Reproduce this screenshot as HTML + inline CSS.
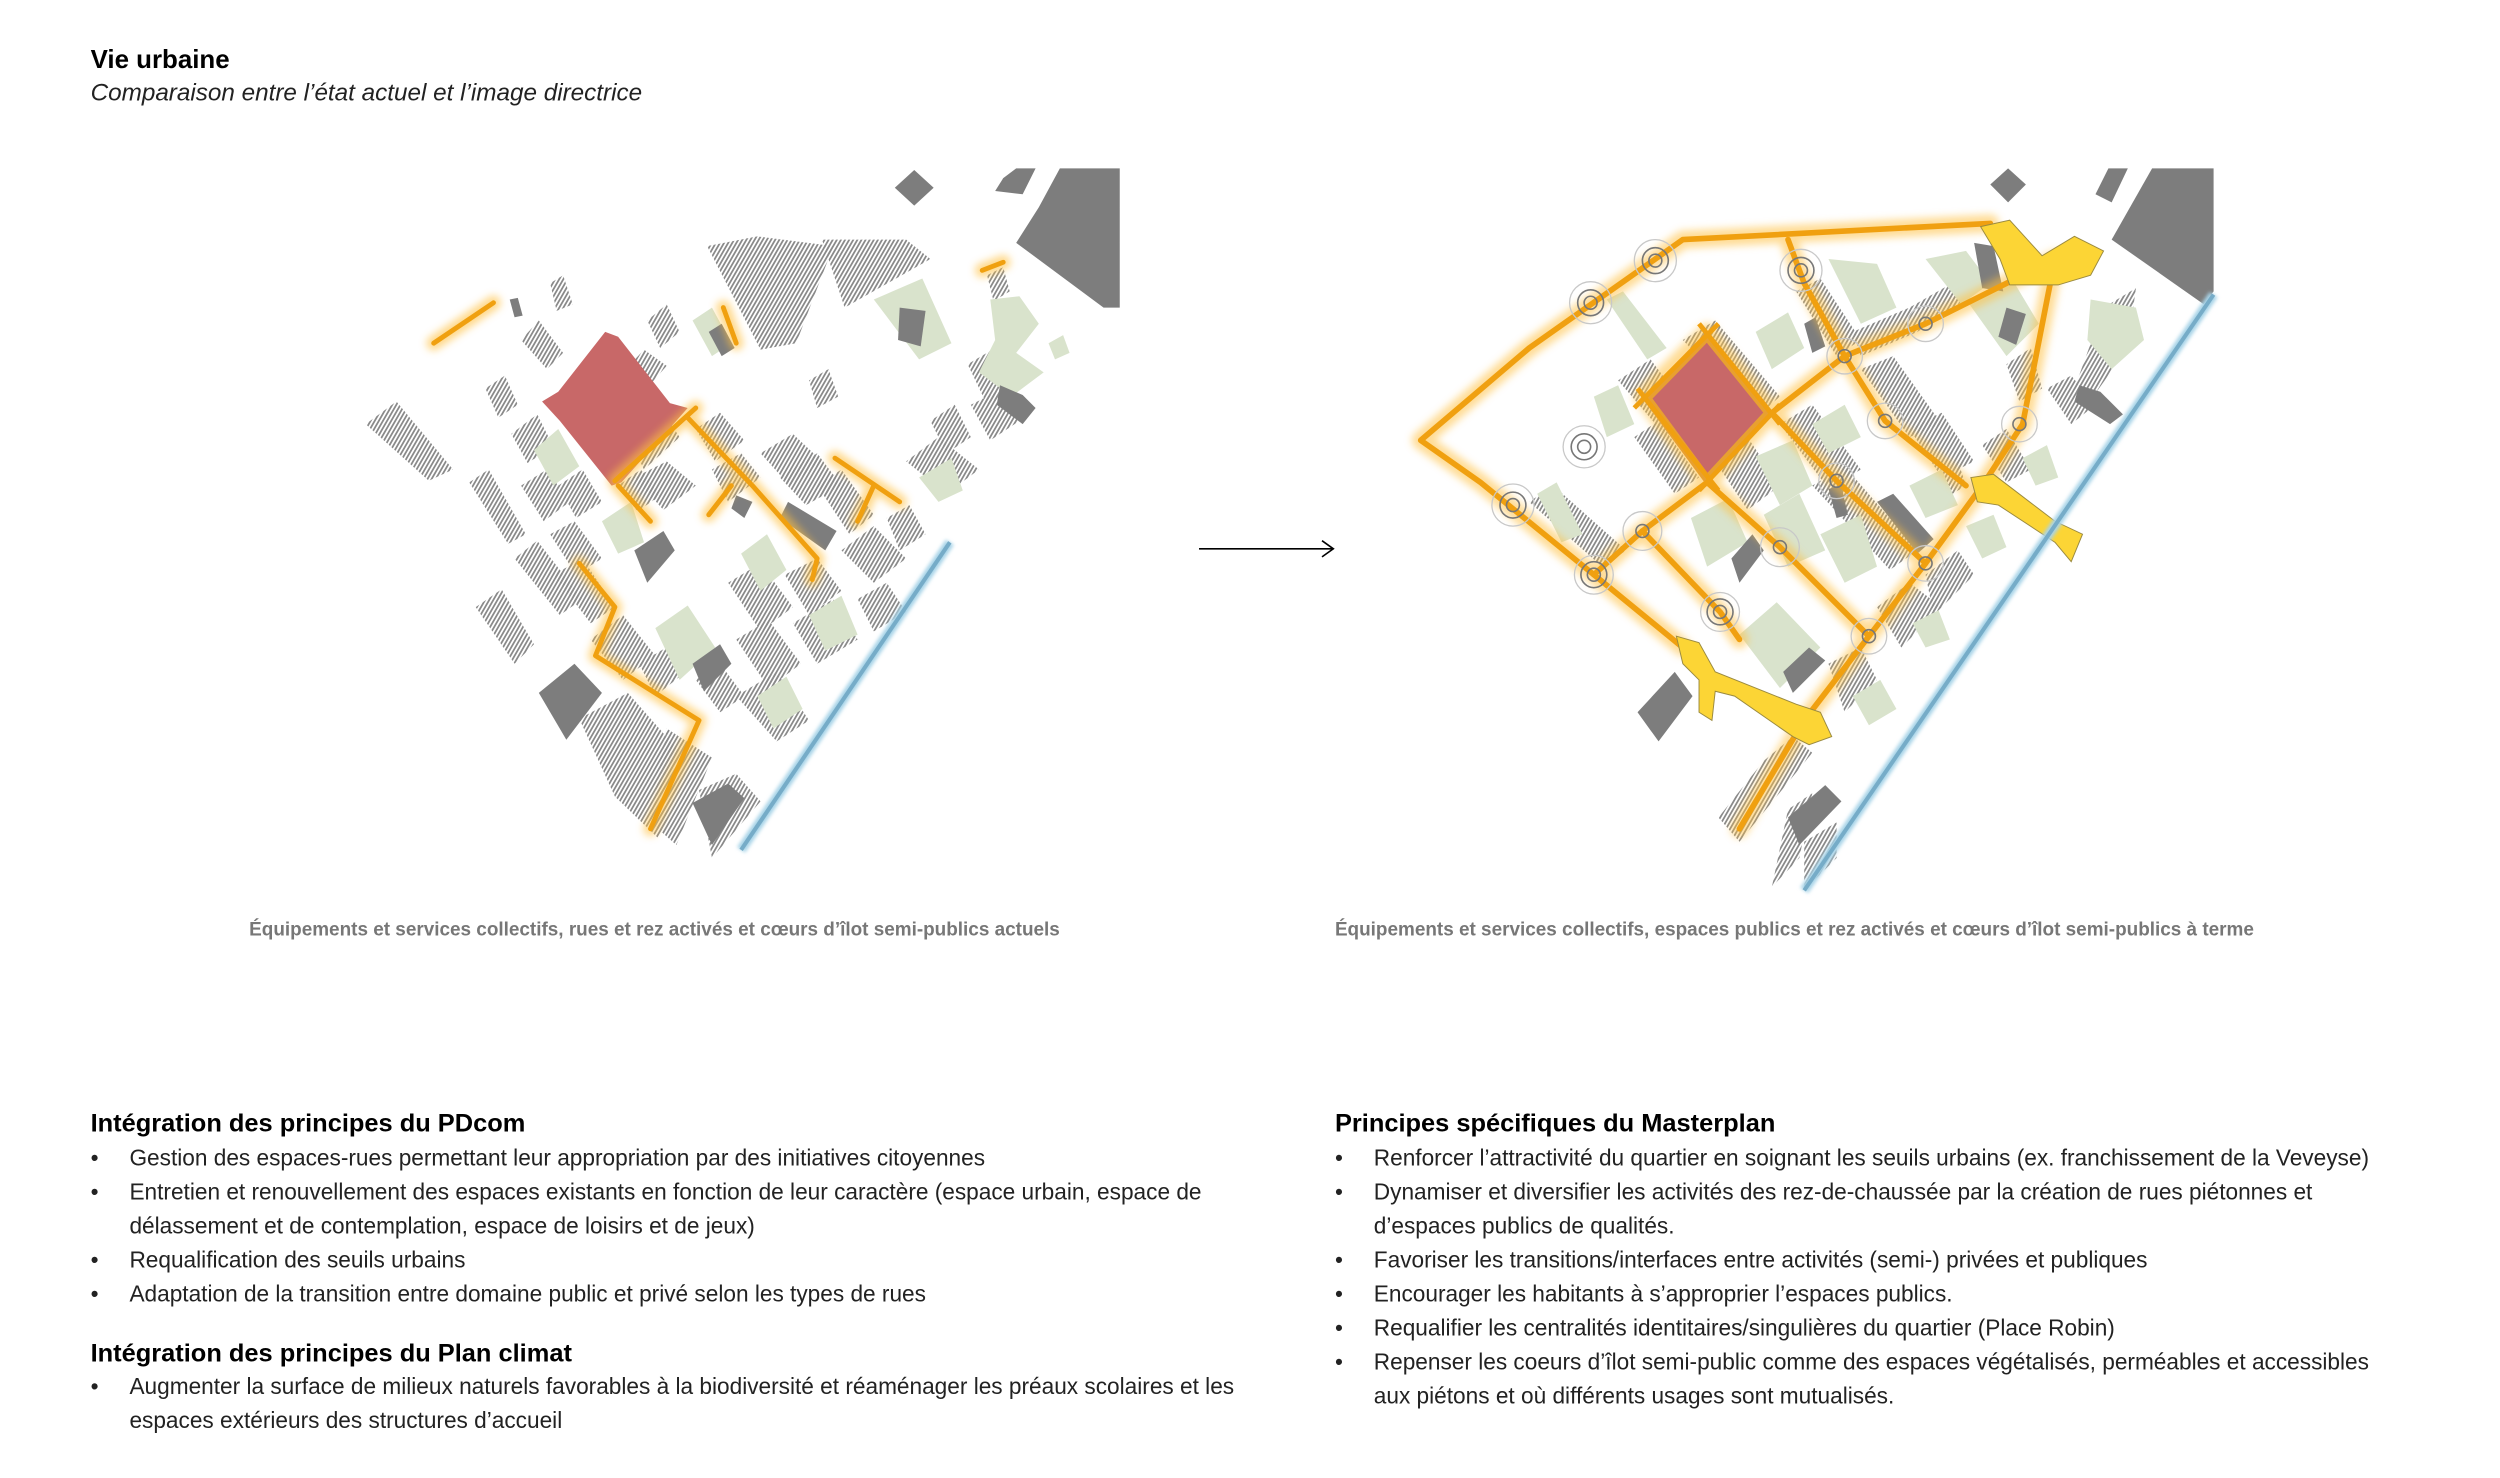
<!DOCTYPE html>
<html><head><meta charset="utf-8"><style>
html,body{margin:0;padding:0;background:#fff;}
svg{display:block}
text{font-family:"Liberation Sans",Arial,sans-serif;}
</style></head><body>
<svg width="2500" height="1478" viewBox="0 0 1545 913" preserveAspectRatio="none" xmlns="http://www.w3.org/2000/svg">
<defs>
<pattern id="h" width="2.2" height="6" patternUnits="userSpaceOnUse" patternTransform="rotate(30)">
<rect width="1.1" height="6" fill="#8a8a8a"/>
</pattern>
<filter id="bl" x="-20%" y="-20%" width="140%" height="140%"><feGaussianBlur stdDeviation="2.5"/></filter>
<filter id="bl2" x="-20%" y="-20%" width="140%" height="140%"><feGaussianBlur stdDeviation="1.2"/></filter>
</defs>
<rect width="1545" height="913" fill="#fff"/>
<text x="56" y="42" font-size="16" font-weight="bold" fill="#000">Vie urbaine</text>
<text x="56" y="62" font-size="15" font-style="italic" fill="#222">Comparaison entre l’état actuel et l’image directrice</text>

<!-- LEFT MAP -->
<g>
<g fill="url(#h)">
<polygon points="437,152 468,146 515,152 492,212 470,216"/>
<polygon points="508,148 560,148 575,160 522,190"/>
<polygon points="226,262 245,248 280,290 265,297"/>
<polygon points="290,298 302,290 325,330 314,336"/>
<polygon points="294,375 310,364 330,398 318,410"/>
<polygon points="358,444 388,428 425,470 407,518 380,492"/>
<polygon points="412,450 440,468 418,522 402,508"/>
<polygon points="432,488 455,478 470,495 440,530"/>
<polygon points="340,175 348,170 354,188 344,192"/>
<polygon points="322,210 333,198 348,218 338,228"/>
<polygon points="400,198 412,188 420,205 408,215"/>
<polygon points="385,230 398,216 412,226 396,244"/>
<polygon points="300,240 312,232 320,250 308,258"/>
<polygon points="316,268 332,256 342,276 326,286"/>
<polygon points="322,300 338,290 352,310 336,322"/>
<polygon points="345,300 360,290 372,310 356,320"/>
<polygon points="318,345 332,334 360,370 346,380"/>
<polygon points="342,355 360,345 380,375 365,385"/>
<polygon points="365,395 385,380 405,405 385,420"/>
<polygon points="388,270 410,255 420,270 398,290"/>
<polygon points="392,295 412,285 430,300 410,315"/>
<polygon points="430,265 445,255 460,272 442,285"/>
<polygon points="440,290 458,280 470,295 450,310"/>
<polygon points="470,280 490,268 508,285 488,300"/>
<polygon points="482,295 505,280 520,300 498,312"/>
<polygon points="500,235 512,228 518,245 505,252"/>
<polygon points="505,300 520,290 540,318 525,330"/>
<polygon points="520,340 540,325 560,345 540,360"/>
<polygon points="548,320 562,312 572,330 556,340"/>
<polygon points="560,285 580,270 605,290 585,305"/>
<polygon points="575,260 590,250 600,270 585,280"/>
<polygon points="598,225 615,215 625,240 610,250"/>
<polygon points="600,250 620,240 630,260 612,272"/>
<polygon points="610,170 620,165 624,180 614,186"/>
<polygon points="450,360 470,348 490,375 470,390"/>
<polygon points="485,355 505,345 520,365 500,380"/>
<polygon points="490,385 515,370 530,395 505,410"/>
<polygon points="455,395 475,383 495,410 475,425"/>
<polygon points="455,430 480,415 500,445 480,458"/>
<polygon points="395,410 420,395 430,410 405,430"/>
<polygon points="430,420 445,410 460,430 445,440"/>
<polygon points="382,300 396,290 408,306 394,316"/>
<polygon points="340,330 355,322 372,345 356,355"/>
<polygon points="530,370 548,360 560,378 540,390"/>
</g>
<g fill="#d9e3cc">
<polygon points="330,278 345,265 358,288 342,300"/>
<polygon points="372,322 390,310 398,335 382,342"/>
<polygon points="458,342 474,330 486,352 470,365"/>
<polygon points="405,388 425,374 442,400 420,420"/>
<polygon points="500,380 520,368 530,392 510,402"/>
<polygon points="468,430 486,418 496,438 478,450"/>
<polygon points="540,185 570,172 588,212 568,222"/>
<polygon points="612,185 630,183 642,200 628,218 645,230 625,245 605,230 615,210"/>
<polygon points="648,212 657,207 661,218 652,222"/>
<polygon points="568,295 588,283 595,303 580,310"/>
<polygon points="428,198 440,190 452,212 440,220"/>
</g>
<g fill="#7d7d7d">
<polygon points="655,104 692,104 692,190 682,190 628,150 642,128"/>
<polygon points="628,104 640,104 632,120 615,118 620,110"/>
<polygon points="565,105 577,116 565,127 553,116"/>
<polygon points="556,190 572,192 569,214 555,210"/>
<polygon points="438,205 446,200 454,215 446,220"/>
<polygon points="315,185 320,184 323,195 318,196"/>
<polygon points="618,238 632,244 640,252 632,262 616,250"/>
<polygon points="487,310 517,328 510,340 482,320"/>
<polygon points="392,340 410,328 417,340 400,360"/>
<polygon points="428,410 445,398 452,410 435,427"/>
<polygon points="333,428 355,410 372,428 350,457"/>
<polygon points="428,496 450,484 460,493 440,522"/>
<polygon points="455,306 465,310 460,320 452,314"/>
</g>
<polygon points="374,205 382,208 414,249 425,252 384,298 378,300 346,260 335,248 345,242" fill="#c86868"/>
<g fill="none" stroke-linecap="round" stroke-linejoin="round">
<g stroke="#ffc040" stroke-width="9" opacity="0.6" filter="url(#bl)">
<polyline points="268,212 305,187"/>
<polyline points="380,297 430,252"/>
<polyline points="425,258 465,300 505,345 502,358"/>
<polyline points="452,300 438,318"/>
<polyline points="382,300 402,322"/>
<polyline points="516,283 556,310"/>
<polyline points="540,300 530,322"/>
<polyline points="358,348 380,375 368,405 432,445 402,512"/>
<polyline points="447,190 455,212"/>
<polyline points="607,167 620,162"/>
</g>
<g stroke="#f0a010" stroke-width="3">
<polyline points="268,212 305,187"/>
<polyline points="380,297 430,252"/>
<polyline points="425,258 465,300 505,345 502,358"/>
<polyline points="452,300 438,318"/>
<polyline points="382,300 402,322"/>
<polyline points="516,283 556,310"/>
<polyline points="540,300 530,322"/>
<polyline points="358,348 380,375 368,405 432,445 402,512"/>
<polyline points="447,190 455,212"/>
<polyline points="607,167 620,162"/>
</g>
</g>
<line x1="458" y1="525" x2="587" y2="335" stroke="#a8d4e8" stroke-width="6" filter="url(#bl2)"/>
<line x1="458" y1="525" x2="587" y2="335" stroke="#76acc8" stroke-width="2.5"/>
</g>

<!-- ARROW -->
<line x1="741" y1="339" x2="824" y2="339" stroke="#000" stroke-width="1"/>
<polyline points="817,334 824,339 817,344" fill="none" stroke="#000" stroke-width="1"/>

<!-- RIGHT MAP -->
<g>
<g fill="url(#h)">
<polygon points="1000,235 1020,222 1045,255 1030,270"/>
<polygon points="1040,210 1060,198 1100,245 1085,258"/>
<polygon points="1010,270 1025,260 1050,295 1035,305"/>
<polygon points="1060,285 1080,270 1100,300 1080,315"/>
<polygon points="1100,262 1120,250 1150,290 1130,302"/>
<polygon points="1120,300 1140,288 1185,340 1168,352"/>
<polygon points="1110,180 1125,172 1150,210 1135,220"/>
<polygon points="1145,205 1180,190 1215,170 1222,180 1185,205 1150,220"/>
<polygon points="1150,228 1170,220 1200,262 1180,270"/>
<polygon points="1180,265 1200,255 1220,285 1200,295"/>
<polygon points="1240,225 1255,215 1262,240 1248,248"/>
<polygon points="1225,275 1240,265 1255,290 1240,298"/>
<polygon points="1265,240 1280,232 1295,250 1280,262"/>
<polygon points="1300,190 1320,178 1315,215 1290,250 1282,240"/>
<polygon points="1190,355 1210,340 1220,355 1195,380"/>
<polygon points="1160,375 1180,360 1200,375 1175,400"/>
<polygon points="1130,410 1150,400 1160,420 1140,440"/>
<polygon points="1090,470 1108,455 1120,465 1075,520 1062,505"/>
<polygon points="1105,500 1120,490 1112,530 1095,548"/>
<polygon points="1115,520 1135,508 1135,530 1115,550"/>
<polygon points="945,310 960,300 1005,340 990,350"/>
<polygon points="1100,320 1112,312 1120,330 1108,336"/>
<polygon points="1185,300 1210,285 1215,300 1195,312"/>
</g>
<g fill="#d9e3cc">
<polygon points="993,185 1003,180 1030,215 1018,222"/>
<polygon points="985,245 1000,238 1010,262 993,270"/>
<polygon points="950,305 962,298 978,330 965,335"/>
<polygon points="1085,205 1105,193 1115,215 1095,228"/>
<polygon points="1130,160 1160,163 1172,190 1150,200"/>
<polygon points="1190,160 1215,155 1230,175 1212,188"/>
<polygon points="1215,185 1245,175 1260,200 1240,220"/>
<polygon points="1292,185 1320,190 1325,210 1305,228 1290,210"/>
<polygon points="1120,262 1140,250 1150,270 1130,280"/>
<polygon points="1085,282 1108,272 1120,300 1100,312"/>
<polygon points="1045,320 1068,308 1080,335 1055,350"/>
<polygon points="1090,318 1112,305 1128,340 1105,350"/>
<polygon points="1125,330 1150,318 1160,350 1140,360"/>
<polygon points="1180,300 1200,290 1210,312 1190,320"/>
<polygon points="1215,325 1232,318 1240,338 1225,345"/>
<polygon points="1075,392 1098,372 1125,400 1100,425"/>
<polygon points="1182,385 1198,377 1205,395 1190,400"/>
<polygon points="1145,430 1162,420 1172,438 1155,448"/>
<polygon points="1250,283 1265,275 1272,295 1258,300"/>
</g>
<g fill="#7d7d7d">
<polygon points="1330,104 1368,104 1368,180 1362,188 1305,148"/>
<polygon points="1303,104 1315,104 1305,125 1295,120"/>
<polygon points="1241,104 1252,114 1241,125 1230,114"/>
<polygon points="1220,150 1232,152 1238,180 1225,178"/>
<polygon points="1240,190 1252,194 1246,213 1235,208"/>
<polygon points="1285,238 1298,242 1312,256 1304,262 1282,248"/>
<polygon points="1115,200 1122,196 1128,214 1120,218"/>
<polygon points="1130,302 1138,300 1142,318 1135,320"/>
<polygon points="1160,310 1170,305 1195,333 1185,342"/>
<polygon points="1070,345 1083,330 1090,340 1075,360"/>
<polygon points="1102,415 1118,400 1128,408 1108,428"/>
<polygon points="1012,440 1035,415 1046,430 1025,458"/>
<polygon points="1105,505 1128,485 1138,495 1112,522"/>
</g>
<g fill="none" stroke-linecap="round" stroke-linejoin="round">
<g stroke="#ffc040" stroke-width="11" opacity="0.55" filter="url(#bl)">
<polyline points="1230,138 1040,148 945,215 878,272 915,298 985,355 1040,400"/>
<polyline points="1105,148 1115,175 1140,220 1165,260 1215,300"/>
<polyline points="1095,255 1140,220 1190,200 1270,160"/>
<polyline points="1270,160 1250,262 1225,300 1190,348 1155,393 1115,445 1075,512"/>
<polyline points="1055,298 1015,328 985,355"/>
<polyline points="1095,255 1135,297 1190,348"/>
<polyline points="1055,298 1100,338 1155,393"/>
<polyline points="1015,328 1063,378 1075,395"/>
<polyline points="1055,205 1095,255 1055,298 1015,245 1055,205"/>
</g>
<g stroke="#f0a010" stroke-width="3.5">
<polyline points="1230,138 1040,148 945,215 878,272 915,298 985,355 1040,400"/>
<polyline points="1105,148 1115,175 1140,220 1165,260 1215,300"/>
<polyline points="1095,255 1140,220 1190,200 1270,160"/>
<polyline points="1270,160 1250,262 1225,300 1190,348 1155,393 1115,445 1075,512"/>
<polyline points="1055,298 1015,328 985,355"/>
<polyline points="1095,255 1135,297 1190,348"/>
<polyline points="1055,298 1100,338 1155,393"/>
<polyline points="1015,328 1063,378 1075,395"/>
</g>
</g>
<polygon points="1055,208 1093,255 1055,296 1018,246" fill="#c86868" stroke="#e8a030" stroke-width="5"/>
<g stroke="#f0a010" stroke-width="3" fill="none">
<line x1="1050" y1="200" x2="1100" y2="262"/><line x1="1012" y1="240" x2="1062" y2="303"/>
<line x1="1010" y1="252" x2="1062" y2="200"/><line x1="1050" y1="303" x2="1100" y2="250"/>
</g>
<g fill="#fcd535" stroke="#9a8a40" stroke-width="0.6">
<polygon points="1224,140 1242,136 1262,158 1282,146 1300,155 1292,170 1272,176 1252,176 1242,176 1236,160"/>
<polygon points="1218,295 1232,293 1270,322 1287,330 1280,347 1270,335 1235,312 1222,310"/>
<polygon points="1036,393 1050,397 1060,415 1110,435 1125,440 1132,455 1118,460 1108,455 1072,430 1060,427 1058,445 1050,440 1050,420 1040,410"/>
</g>
<g fill="none">
<g stroke="#c8c8c8" stroke-width="0.8">
<circle cx="1023" cy="161" r="13"/><circle cx="983" cy="187" r="13"/><circle cx="1113" cy="167" r="13"/>
<circle cx="1190" cy="200" r="11"/><circle cx="1140" cy="220" r="11"/><circle cx="1165" cy="260" r="11"/>
<circle cx="1248" cy="262" r="11"/><circle cx="979" cy="276" r="13"/><circle cx="935" cy="312" r="13"/>
<circle cx="1015" cy="328" r="12"/><circle cx="985" cy="355" r="12"/><circle cx="1100" cy="338" r="12"/>
<circle cx="1135" cy="297" r="11"/><circle cx="1190" cy="348" r="11"/><circle cx="1063" cy="378" r="12"/><circle cx="1155" cy="393" r="11"/>
</g>
<g stroke="#777" stroke-width="1">
<circle cx="1023" cy="161" r="4"/><circle cx="983" cy="187" r="4"/><circle cx="1113" cy="167" r="4"/>
<circle cx="1190" cy="200" r="4"/><circle cx="1140" cy="220" r="4"/><circle cx="1165" cy="260" r="4"/>
<circle cx="1248" cy="262" r="4"/><circle cx="979" cy="276" r="4"/><circle cx="935" cy="312" r="4"/>
<circle cx="1015" cy="328" r="4"/><circle cx="985" cy="355" r="4"/><circle cx="1100" cy="338" r="4"/>
<circle cx="1135" cy="297" r="4"/><circle cx="1190" cy="348" r="4"/><circle cx="1063" cy="378" r="4"/><circle cx="1155" cy="393" r="4"/>
<circle cx="1023" cy="161" r="8"/><circle cx="983" cy="187" r="8"/><circle cx="1113" cy="167" r="8"/>
<circle cx="979" cy="276" r="8"/><circle cx="935" cy="312" r="8"/><circle cx="985" cy="355" r="8"/><circle cx="1063" cy="378" r="8"/>
</g>
</g>
<line x1="1115" y1="550" x2="1368" y2="182" stroke="#a8d4e8" stroke-width="6" filter="url(#bl2)"/>
<line x1="1115" y1="550" x2="1368" y2="182" stroke="#76acc8" stroke-width="2.5"/>
</g>

<text x="154" y="578" font-size="11.7" font-weight="bold" fill="#777">Équipements et services collectifs, rues et rez activés et cœurs d’îlot semi-publics actuels</text>
<text x="825" y="578" font-size="11.7" font-weight="bold" fill="#777">Équipements et services collectifs, espaces publics et rez activés et cœurs d’îlot semi-publics à terme</text>

<g font-size="14" fill="#222">
<text x="56" y="699" font-size="15.7" font-weight="bold" fill="#000">Intégration des principes du PDcom</text>
<text x="56" y="720">•</text><text x="80" y="720">Gestion des espaces-rues permettant leur appropriation par des initiatives citoyennes</text>
<text x="56" y="741">•</text><text x="80" y="741">Entretien et renouvellement des espaces existants en fonction de leur caractère (espace urbain, espace de</text>
<text x="80" y="762">délassement et de contemplation, espace de loisirs et de jeux)</text>
<text x="56" y="783">•</text><text x="80" y="783">Requalification des seuils urbains</text>
<text x="56" y="804">•</text><text x="80" y="804">Adaptation de la transition entre domaine public et privé selon les types de rues</text>
<text x="56" y="841" font-size="15.7" font-weight="bold" fill="#000">Intégration des principes du Plan climat</text>
<text x="56" y="861">•</text><text x="80" y="861">Augmenter la surface de milieux naturels favorables à la biodiversité et réaménager les préaux scolaires et les</text>
<text x="80" y="882">espaces extérieurs des structures d’accueil</text>

<text x="825" y="699" font-size="15.7" font-weight="bold" fill="#000">Principes spécifiques du Masterplan</text>
<text x="825" y="720">•</text><text x="849" y="720">Renforcer l’attractivité du quartier en soignant les seuils urbains (ex. franchissement de la Veveyse)</text>
<text x="825" y="741">•</text><text x="849" y="741">Dynamiser et diversifier les activités des rez-de-chaussée par la création de rues piétonnes et</text>
<text x="849" y="762">d’espaces publics de qualités.</text>
<text x="825" y="783">•</text><text x="849" y="783">Favoriser les transitions/interfaces entre activités (semi-) privées et publiques</text>
<text x="825" y="804">•</text><text x="849" y="804">Encourager les habitants à s’approprier l’espaces publics.</text>
<text x="825" y="825">•</text><text x="849" y="825">Requalifier les centralités identitaires/singulières du quartier (Place Robin)</text>
<text x="825" y="846">•</text><text x="849" y="846">Repenser les coeurs d’îlot semi-public comme des espaces végétalisés, perméables et accessibles</text>
<text x="849" y="867">aux piétons et où différents usages sont mutualisés.</text>
</g>
</svg>
</body></html>
